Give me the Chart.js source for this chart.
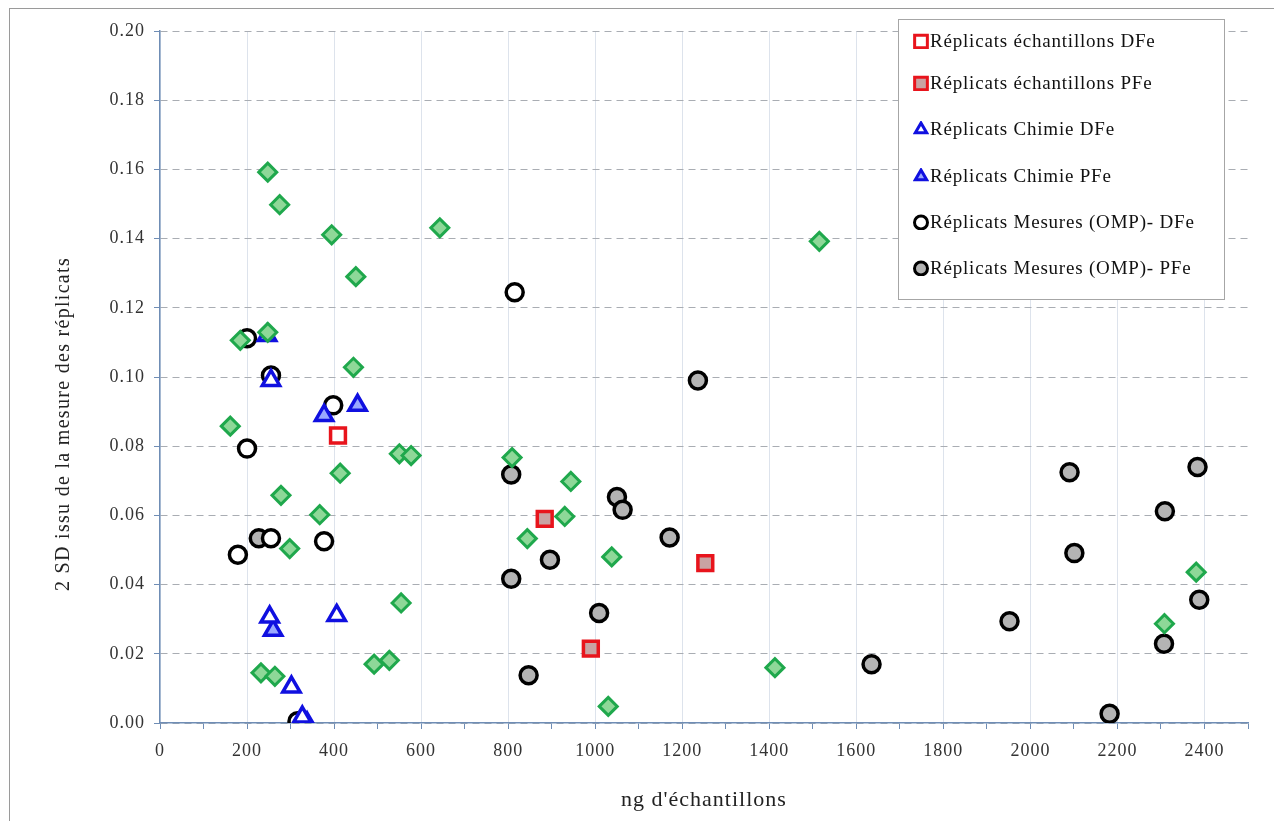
<!DOCTYPE html>
<html>
<head>
<meta charset="utf-8">
<script src="https://cdn.jsdelivr.net/npm/chart.js@4.4.1/dist/chart.umd.min.js"></script>
<style>
  html, body { margin: 0; padding: 0; background: #fff; overflow: hidden; }
  #wrap { position: absolute; left: 0; top: 0; width: 1274px; height: 821px; }
  #frame { position: absolute; left: 9px; top: 8px; width: 1400px; height: 900px;
           border-left: 1px solid #9a9a9a; border-top: 1px solid #9a9a9a; pointer-events: none; }
  #legend { position: absolute; left: 898px; top: 19px; width: 327px; height: 281px;
            border: 1px solid #a6a6a6; background: #fff; box-sizing: border-box;
            font-family: "Liberation Serif", "Times New Roman", serif; font-size: 19px; color: #111; }
  .row { position: absolute; left: 14px; height: 22px; display: flex; align-items: center; letter-spacing: 0.8px; }
  .row canvas { margin-right: 1px; }
</style>
</head>
<body>
<div id="wrap"><canvas id="c"></canvas></div>
<div id="frame"></div>
<div id="legend"></div>
<script>
// green diamonds (no legend entry)
const autresX = [247.6, 275, 394.5, 450, 643, 1515, 247.6, 184.5, 444.5, 161.5, 414, 550, 577, 809, 944,
                 278, 367, 298, 844, 930, 1038, 554, 492, 527, 232, 264, 1030, 1413, 2381, 2308];
const autresY = [0.1592, 0.1498, 0.1411, 0.129, 0.1431, 0.1392, 0.1129, 0.1106, 0.1028, 0.0858, 0.0722, 0.0778, 0.0773, 0.0767, 0.0698,
                 0.0658, 0.0602, 0.0504, 0.0533, 0.0597, 0.0480, 0.0347, 0.0170, 0.0181, 0.0145, 0.0135, 0.0048, 0.0160, 0.0436, 0.0287];

const echDFeX = [409];
const echDFeY = [0.0831];
const echPFeX = [884, 990, 1253];
const echPFeY = [0.0590, 0.0215, 0.0462];

const chimDFeX = [252, 406, 302, 327, 255];
const chimDFeY = [0.0306, 0.0311, 0.0104, 0.0017, 0.099];
const chimPFeX = [260, 377, 454, 246, 338];
const chimPFeY = [0.0268, 0.0889, 0.0918, 0.112, 0.0];

const mesDFeX = [200, 255, 398, 200, 179, 255, 377, 316, 815];
const mesDFeY = [0.1112, 0.1004, 0.0918, 0.0793, 0.0486, 0.0534, 0.0525, 0.0005, 0.1245];
const mesPFeX = [227, 807, 1050, 1063, 1171, 896, 807, 1009, 847, 1236, 1635, 2090, 2384, 2309, 2101, 2388, 2307, 1952, 2182];
const mesPFeY = [0.0534, 0.0718, 0.0653, 0.0616, 0.0536, 0.0472, 0.0417, 0.0318, 0.0138, 0.099, 0.0170, 0.0725, 0.0740, 0.0612, 0.0491, 0.0356, 0.0229, 0.0294, 0.0027];

const yTicks = [0, 0.02, 0.04, 0.06, 0.08, 0.10, 0.12, 0.14, 0.16, 0.18, 0.20];
const yTitle = '2 SD issu de la mesure des réplicats';
const xTitle = "ng d'échantillons";

function pts(xs, ys) {
    return xs.map((x, i) => ({ x: x, y: ys[i] }));
}

const serif = '"Liberation Serif", "Times New Roman", serif';
const axisBlue = '#6f8db5';

// the original text is letter-spaced, canvas needs it set after each resize
const spacing = {
    id: 'spacing',
    beforeLayout(chart) { chart.ctx.letterSpacing = '1px'; },
    beforeDraw(chart) { chart.ctx.letterSpacing = '1px'; }
};

// y title sits a bit below the middle of the axis in the original
const yTitlePlugin = {
    id: 'yTitle',
    afterDraw(chart) {
        const ctx = chart.ctx;
        ctx.save();
        ctx.letterSpacing = '1.3px';
        ctx.font = '20px ' + serif;
        ctx.fillStyle = '#222';
        ctx.textAlign = 'center';
        ctx.textBaseline = 'middle';
        ctx.translate(64, 424);
        ctx.rotate(-Math.PI / 2);
        ctx.fillText(yTitle, 0, 0);
        ctx.restore();
    }
};

const datasets = [
    {
        label: '',
        data: pts(autresX, autresY),
        pointStyle: 'rectRot', radius: 9, borderWidth: 3,
        borderColor: '#1fa84c', backgroundColor: '#8ed898'
    },
    {
        label: 'Réplicats échantillons DFe',
        data: pts(echDFeX, echDFeY),
        pointStyle: 'rect', radius: 10.5, borderWidth: 3.5,
        borderColor: '#e8141c', backgroundColor: '#ffffff'
    },
    {
        label: 'Réplicats échantillons PFe',
        data: pts(echPFeX, echPFeY),
        pointStyle: 'rect', radius: 10.5, borderWidth: 3.5,
        borderColor: '#e8141c', backgroundColor: '#c9a3a3'
    },
    {
        label: 'Réplicats Chimie DFe',
        data: pts(chimDFeX, chimDFeY),
        pointStyle: 'triangle', radius: 10, borderWidth: 3.5,
        borderColor: '#1010e0', backgroundColor: '#ffffff'
    },
    {
        label: 'Réplicats Chimie PFe',
        data: pts(chimPFeX, chimPFeY),
        pointStyle: 'triangle', radius: 10, borderWidth: 3.5,
        borderColor: '#1010e0', backgroundColor: '#9aa8ff'
    },
    {
        label: 'Réplicats Mesures (OMP)- DFe',
        data: pts(mesDFeX, mesDFeY),
        pointStyle: 'circle', radius: 8.5, borderWidth: 3.5,
        borderColor: '#000000', backgroundColor: '#ffffff'
    },
    {
        label: 'Réplicats Mesures (OMP)- PFe',
        data: pts(mesPFeX, mesPFeY),
        pointStyle: 'circle', radius: 8.5, borderWidth: 3.5,
        borderColor: '#000000', backgroundColor: '#b4b4b4'
    }
];

const chart = new Chart(document.getElementById('c'), {
    type: 'scatter',
    data: { datasets: datasets },
    plugins: [spacing, yTitlePlugin],
    options: {
        responsive: true,
        maintainAspectRatio: false,
        animation: false,
        layout: { padding: { left: 0, right: 26, top: 31, bottom: 0 } },
        plugins: {
            legend: { display: false },
            tooltip: { enabled: false }
        },
        scales: {
            x: {
                type: 'linear',
                min: 0, max: 2500,
                afterFit: (s) => { s.height = 98; },
                ticks: {
                    stepSize: 100,
                    autoSkip: false,
                    maxRotation: 0,
                    padding: 11,
                    color: '#333',
                    font: { family: serif, size: 18 },
                    callback: (v) => (v % 200 === 0 ? String(v) : '')
                },
                grid: {
                    color: (ctx) => (ctx.tick && ctx.tick.value % 200 === 0 ? '#dde3ec' : 'rgba(0,0,0,0)'),
                    tickColor: axisBlue,
                    tickLength: 6
                },
                border: { color: axisBlue, width: 1.5 },
                title: {
                    display: true,
                    text: xTitle,
                    color: '#222',
                    font: { family: serif, size: 22 },
                    padding: { top: 0, bottom: 8 }
                }
            },
            y: {
                min: 0, max: 0.2,
                afterFit: (s) => { s.width = 160; },
                afterBuildTicks: (s) => { s.ticks = yTicks.map(v => ({ value: v })); },
                ticks: {
                    padding: 9,
                    color: '#333',
                    font: { family: serif, size: 18 },
                    callback: (v) => Number(v).toFixed(2)
                },
                grid: {
                    color: '#a9adb3',
                    tickColor: axisBlue,
                    tickLength: 6
                },
                border: { color: axisBlue, width: 1.5, dash: [7, 5] }
            }
        }
    }
});

// legend built from the datasets
const legendEl = document.getElementById('legend');
const rowTops = [10, 52, 98, 145, 191, 237];
let r = 0;
chart.data.datasets.forEach((ds) => {
    if (!ds.label) return;
    const row = document.createElement('div');
    row.className = 'row';
    row.style.top = rowTops[r] + 'px';
    const cv = document.createElement('canvas');
    cv.width = 16; cv.height = 16;
    const ctx = cv.getContext('2d');
    ctx.lineWidth = 3;
    ctx.strokeStyle = ds.borderColor;
    ctx.fillStyle = ds.backgroundColor;
    const rad = ds.pointStyle === 'rect' ? 9 : 6.5;
    Chart.helpers.drawPoint(ctx, { pointStyle: ds.pointStyle, radius: rad, borderWidth: 3, rotation: 0 }, 8, 8.5);
    row.appendChild(cv);
    const t = document.createElement('span');
    t.textContent = ds.label;
    row.appendChild(t);
    legendEl.appendChild(row);
    r++;
});
</script>
</body>
</html>
